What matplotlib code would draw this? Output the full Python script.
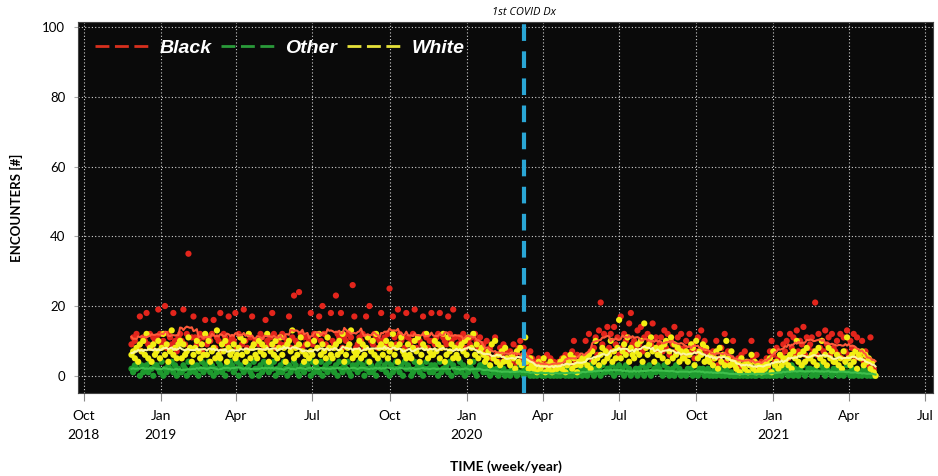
import numpy as np
import pandas as pd
import matplotlib
matplotlib.use("Agg")
import matplotlib.pyplot as plt
from matplotlib.lines import Line2D

# daily encounter counts, one value every 2 days from start_day,
# written in base 36 (0-9, a=10 ... z=35), grouped by ~month
start_day = "2018-11-27"
step_days = 2
covid_day = "2020-03-10"

black_raw = ("9bac8h7bai9c8ba bjc9ak8cb9ia7bc aj9cz8bhb9ac7bg 9bacg8bai7cb9ha "
             "bai8cb9ja8cbh9a a9cb8ga9bic8ab9 cb9ah8bna9oc8b9 bai9cb8hakc9b8i "
             "a9ncbi8bac9bqh8 9bac8hbka9cb8ai ab9cp8hb9jcab8i b9acj8ba9hcb8ai "
             "a9bci8ba9hcajb8 9bac8ha9bgca8b9 97a6855b6486957 5749638a5846375 "
             "342531426352413 435264537a46352 5a6c748b6dl9c7e 8c7e9b6h8ca7fi9 "
             "a8d9e7b8ca9f8b7 9b7d8c6a9e7b8c6 8a6c7957b6d8a75 6475a3586c4735a "
             "4253627143a5263 2413527a6485c69 7a5c8b6d7a9e6b8 9b7l6c8a7d9b6c8 "
             "7a6c5b7d6a8c5b6 6a4753b420")
other_raw = ("213240312314203 321402132413021 132041231302413 241302143120324 "
             "312403214231042 203142313240213 142031243102314 320413214023142 "
             "213042132410323 142302413120342 231403124213042 320142313024213 "
             "132041223140321 241302132410233 121302112031201 102120131021102 "
             "010120101201010 101201020110120 120131021203112 213021312031201 "
             "120213021301213 210312012031201 102120310212012 010201201021010 "
             "001010200101001 100201010201102 120130210213012 201201312021102 "
             "120210131020110 1021010100")
white_raw = ("6758497a6c58496 7a58c6947d6859a 5967b8468a7596c 6a4785d6597a486 "
             "79568b6a47c5896 5a7968c4796a58b 6849a7d5869b746 9576a48c6975b86 "
             "5896a7c4689d576 7a5968b47a6c589 68a579c6849b765 9658a7b4698c576 "
             "6a7958c46b79586 5897a6b48c69578 6457395a4637485 4365274836b4253 "
             "231423513241322 342513462531435 4536274a5368475 6a4758g5796b486 "
             "5796a4f869b7486 6859a47b5968475 5746983a5769485 4635728463a5374 "
             "324153241362413 213243517342635 4536275a4637485 5647385a4638574 "
             "4635274b5364726 5736452410")

tick_dates = ["2018-10-01", "2019-01-01", "2019-04-01", "2019-07-01", "2019-10-01",
              "2020-01-01", "2020-04-01", "2020-07-01", "2020-10-01",
              "2021-01-01", "2021-04-01", "2021-07-01"]
tick_labels = ["Oct\n2018", "Jan\n2019", "Apr", "Jul", "Oct", "Jan\n2020",
               "Apr", "Jul", "Oct", "Jan\n2021", "Apr", "Jul"]


def decode(raw):
    vals = [int(c, 36) for c in raw.replace(" ", "")]
    days = pd.date_range(start_day, periods=len(vals), freq=f"{step_days}D")
    return days, np.array(vals, dtype=float)


series = [
    ("Black", black_raw, "#e3251c", "#ff5a3a", "#d8301e"),
    ("Other", other_raw, "#1e9a2e", "#3fbf4c", "#2a9a3a"),
    ("White", white_raw, "#f2ee12", "#fbf7a0", "#e6e23a"),
]

fig = plt.figure(figsize=(9.38, 4.76), dpi=100)
ax = fig.add_axes([0.083, 0.174, 0.912, 0.78])
ax.set_facecolor("#0a0a0a")

# points: black first, then other, white on top
for name, raw, col, lcol, hcol in series:
    d, v = decode(raw)
    ax.scatter(d, v, s=20, color=col, edgecolors="none", zorder=2)

for name, raw, col, lcol, hcol in series:
    d, v = decode(raw)
    trend = pd.Series(v).rolling(11, center=True, min_periods=1).mean()
    ax.plot(d, trend, color=lcol, lw=1.5, zorder=3)

cov = pd.Timestamp(covid_day)
ax.axvline(cov, color="#2aa6d5", lw=3, ls=(0, (4, 2.5)), zorder=4)
ax.text(cov, 102.5, "1st COVID Dx", ha="center", va="bottom",
        fontsize=8, style="italic", family="Open Sans")

ax.set_xlim(pd.Timestamp("2018-09-24"), pd.Timestamp("2021-07-11"))
ax.set_ylim(-5, 101.5)
ax.set_yticks([0, 20, 40, 60, 80, 100])
ax.set_xticks([pd.Timestamp(t) for t in tick_dates])
ax.set_xticklabels(tick_labels, fontsize=10, family="Lato", linespacing=1.7)
for lab in ax.get_yticklabels():
    lab.set_fontsize(9.5)
    lab.set_family("Lato")
ax.tick_params(axis="x", length=6, color="#888888", pad=6)
ax.tick_params(axis="y", length=3, color="#aaaaaa", pad=6)
for sp in ax.spines.values():
    sp.set_color("#444444")

ax.grid(True, color="#d0d0d0", ls=(0, (1, 2)), lw=0.8, zorder=1)
ax.set_axisbelow(True)

ax.set_ylabel("ENCOUNTERS [#]", fontsize=9.5, fontweight="bold", family="Lato", labelpad=14)
ax.set_xlabel("TIME (week/year)", fontsize=10, fontweight="bold", family="Lato", labelpad=14)

handles = [Line2D([], [], color=s[4], lw=2, ls=(0, (5, 2))) for s in series]
leg = ax.legend(handles, [s[0] for s in series], loc="upper left", ncol=3,
                frameon=False, handlelength=2.8, handletextpad=0.5,
                columnspacing=0.5, borderaxespad=0.5, bbox_to_anchor=(0.0, 1.0),
                prop={"family": "Liberation Sans", "weight": "bold",
                      "style": "italic", "size": 14})
for t in leg.get_texts():
    t.set_color("white")

fig.savefig("out.png", dpi=100)
